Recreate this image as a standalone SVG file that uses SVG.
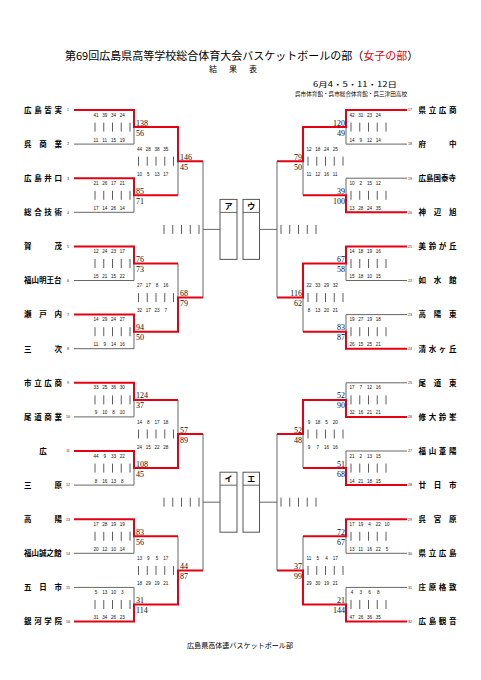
<svg xmlns="http://www.w3.org/2000/svg" width="481" height="680" viewBox="0 0 481 680">
<style>
.jp{font-family:"Noto Sans CJK JP","Noto Sans CJK SC",sans-serif;fill:#000}
.nm{font-size:7.5px;font-weight:bold}
.sd{font-family:"Liberation Sans",sans-serif;font-size:3.6px;text-anchor:middle;fill:#222}
.sc{font-family:"Liberation Serif",serif;font-size:8px;fill:#111}
.scr{font-family:"Liberation Serif",serif;font-size:8px;fill:#111;text-anchor:end}
.st{font-family:"Liberation Sans",sans-serif;font-size:4.6px;text-anchor:middle;fill:#111}
.g{stroke:#666;stroke-width:1;fill:none}
.r{stroke:#e60012;stroke-width:2;fill:none}
.box{fill:#fff;stroke:#555;stroke-width:1}
.lb{font-family:"Noto Sans CJK JP",sans-serif;font-size:8px;font-weight:bold;text-anchor:middle}
</style>
<defs>
<g id="b5"><path d="M0,-4.5v9M8.75,-4.5v9M17.5,-4.5v9M26.25,-4.5v9M35,-4.5v9" stroke="#333" stroke-width="0.8"/></g>
</defs>
<rect width="481" height="680" fill="#fff"/>

<g id="header">
<text class="jp" x="65" y="59.5" font-size="11">第69回広島県高等学校総合体育大会バスケットボールの部（<tspan fill="#e60012">女子の部</tspan>）</text>
<text class="jp" font-size="8" y="72"><tspan x="209">結</tspan><tspan x="229">果</tspan><tspan x="249">表</tspan></text>
<text class="jp" x="313" y="86.5" font-size="7" textLength="84" lengthAdjust="spacingAndGlyphs">6月4・5・11・12日</text>
<text class="jp" x="295" y="95.5" font-size="5.6" textLength="112" lengthAdjust="spacingAndGlyphs">呉市体育館・呉市総合体育館・呉三津田高校</text>
</g>

<g id="connectors">
<path class="g" d="M74,144.1H134V127.1M74,212.3H134V195.3M74,280.5H134V263.5M74,348.7H134V331.7M74,416.9H134V399.9M74,485.1H134V468.1M74,553.3H134V536.3M74,587.4H134V604.5M178,161.2V195.3M178,263.5V297.6M178,399.9V434M178,536.3V570.4M203,161.2V297.6M203,434V570.4M203,229.4H220M203,502.2H220"/>
<path class="g" d="M407,144.1H346V127.1M407,178.2H346V195.3M407,280.5H346V263.5M407,314.6H346V331.7M407,382.8H346V399.9M407,451H346V468.1M407,553.3H346V536.3M407,587.4H346V604.5M303,161.2V195.3M303,297.6V331.7M303,434V468.1M303,536.3V570.4M277,161.2V297.6M277,434V570.4M259,229.4H277M259,502.2H277"/>
<path class="r" d="M74,110H134V127.1H178V161.2H203M74,178.2H134V195.3H178M74,246.4H134V263.5H178M74,314.6H134V331.7H178V297.6H203M74,382.8H134V399.9H178M74,451H134V468.1H178V434H203M74,519.2H134V536.3H178M74,621.5H134V604.5H178V570.4H203"/>
<path class="r" d="M407,110H346V127.1H303V161.2H277M407,212.3H346V195.3H303M407,246.4H346V263.5H303V297.6H277M407,348.7H346V331.7H303M407,416.9H346V399.9H303V434H277M407,485.1H346V468.1H303M407,519.2H346V536.3H303M407,621.5H346V604.5H303V570.4H277"/>
</g>

<g id="bars">
<use href="#b5" x="95" y="127.1"/><use href="#b5" x="95" y="195.3"/><use href="#b5" x="95" y="263.5"/><use href="#b5" x="95" y="331.7"/>
<use href="#b5" x="95" y="399.9"/><use href="#b5" x="95" y="468.1"/><use href="#b5" x="95" y="536.3"/><use href="#b5" x="95" y="604.5"/>
<use href="#b5" x="138.5" y="161.2"/><use href="#b5" x="138.5" y="297.6"/><use href="#b5" x="138.5" y="434"/><use href="#b5" x="138.5" y="570.4"/>
<use href="#b5" x="164" y="229.4"/><use href="#b5" x="164" y="502.2"/>
<use href="#b5" x="281" y="229.4"/><use href="#b5" x="281" y="502.2"/>
<use href="#b5" x="308" y="161.2"/><use href="#b5" x="308" y="297.6"/><use href="#b5" x="308" y="434"/><use href="#b5" x="308" y="570.4"/>
<use href="#b5" x="351" y="127.1"/><use href="#b5" x="351" y="195.3"/><use href="#b5" x="351" y="263.5"/><use href="#b5" x="351" y="331.7"/>
<use href="#b5" x="351" y="399.9"/><use href="#b5" x="351" y="468.1"/><use href="#b5" x="351" y="536.3"/><use href="#b5" x="351" y="604.5"/>
</g>

<g id="scores">
<text class="sc" x="136" y="125.6">138</text><text class="sc" x="136" y="135.6">56</text>
<text class="sc" x="136" y="193.8">85</text><text class="sc" x="136" y="203.8">71</text>
<text class="sc" x="136" y="262">76</text><text class="sc" x="136" y="272">73</text>
<text class="sc" x="136" y="330.2">94</text><text class="sc" x="136" y="340.2">50</text>
<text class="sc" x="136" y="398.4">124</text><text class="sc" x="136" y="408.4">37</text>
<text class="sc" x="136" y="466.6">108</text><text class="sc" x="136" y="476.6">45</text>
<text class="sc" x="136" y="534.8">83</text><text class="sc" x="136" y="544.8">56</text>
<text class="sc" x="136" y="603">31</text><text class="sc" x="136" y="613">114</text>
<text class="sc" x="180" y="159.7">146</text><text class="sc" x="180" y="169.7">45</text>
<text class="sc" x="180" y="296.1">68</text><text class="sc" x="180" y="306.1">79</text>
<text class="sc" x="180" y="432.5">57</text><text class="sc" x="180" y="442.5">89</text>
<text class="sc" x="180" y="568.9">44</text><text class="sc" x="180" y="578.9">87</text>
<text class="scr" x="345" y="125.6">120</text><text class="scr" x="345" y="135.6">49</text>
<text class="scr" x="345" y="193.8">39</text><text class="scr" x="345" y="203.8">100</text>
<text class="scr" x="345" y="262">67</text><text class="scr" x="345" y="272">58</text>
<text class="scr" x="345" y="330.2">83</text><text class="scr" x="345" y="340.2">87</text>
<text class="scr" x="345" y="398.4">52</text><text class="scr" x="345" y="408.4">90</text>
<text class="scr" x="345" y="466.6">51</text><text class="scr" x="345" y="476.6">68</text>
<text class="scr" x="345" y="534.8">72</text><text class="scr" x="345" y="544.8">67</text>
<text class="scr" x="345" y="603">21</text><text class="scr" x="345" y="613">144</text>
<text class="scr" x="302" y="159.7">79</text><text class="scr" x="302" y="169.7">50</text>
<text class="scr" x="302" y="296.1">116</text><text class="scr" x="302" y="306.1">62</text>
<text class="scr" x="302" y="432.5">52</text><text class="scr" x="302" y="442.5">48</text>
<text class="scr" x="302" y="568.9">37</text><text class="scr" x="302" y="578.9">99</text>
</g>

<g id="periods">
<text class="st" y="116.6"><tspan x="96">41</tspan><tspan x="104.75">39</tspan><tspan x="113.5">34</tspan><tspan x="122.25">24</tspan></text>
<text class="st" y="141.6"><tspan x="96">11</tspan><tspan x="104.75">11</tspan><tspan x="113.5">15</tspan><tspan x="122.25">19</tspan></text>
<text class="st" y="184.8"><tspan x="96">21</tspan><tspan x="104.75">26</tspan><tspan x="113.5">17</tspan><tspan x="122.25">21</tspan></text>
<text class="st" y="209.8"><tspan x="96">17</tspan><tspan x="104.75">14</tspan><tspan x="113.5">26</tspan><tspan x="122.25">14</tspan></text>
<text class="st" y="253"><tspan x="96">12</tspan><tspan x="104.75">24</tspan><tspan x="113.5">23</tspan><tspan x="122.25">17</tspan></text>
<text class="st" y="278"><tspan x="96">15</tspan><tspan x="104.75">21</tspan><tspan x="113.5">15</tspan><tspan x="122.25">22</tspan></text>
<text class="st" y="321.2"><tspan x="96">14</tspan><tspan x="104.75">29</tspan><tspan x="113.5">24</tspan><tspan x="122.25">27</tspan></text>
<text class="st" y="346.2"><tspan x="96">11</tspan><tspan x="104.75">9</tspan><tspan x="113.5">14</tspan><tspan x="122.25">16</tspan></text>
<text class="st" y="389.4"><tspan x="96">33</tspan><tspan x="104.75">25</tspan><tspan x="113.5">36</tspan><tspan x="122.25">30</tspan></text>
<text class="st" y="414.4"><tspan x="96">9</tspan><tspan x="104.75">10</tspan><tspan x="113.5">8</tspan><tspan x="122.25">10</tspan></text>
<text class="st" y="457.6"><tspan x="96">44</tspan><tspan x="104.75">9</tspan><tspan x="113.5">33</tspan><tspan x="122.25">22</tspan></text>
<text class="st" y="482.6"><tspan x="96">8</tspan><tspan x="104.75">16</tspan><tspan x="113.5">13</tspan><tspan x="122.25">8</tspan></text>
<text class="st" y="525.8"><tspan x="96">17</tspan><tspan x="104.75">28</tspan><tspan x="113.5">19</tspan><tspan x="122.25">19</tspan></text>
<text class="st" y="550.8"><tspan x="96">20</tspan><tspan x="104.75">12</tspan><tspan x="113.5">10</tspan><tspan x="122.25">14</tspan></text>
<text class="st" y="594"><tspan x="96">5</tspan><tspan x="104.75">13</tspan><tspan x="113.5">10</tspan><tspan x="122.25">3</tspan></text>
<text class="st" y="619"><tspan x="96">31</tspan><tspan x="104.75">34</tspan><tspan x="113.5">26</tspan><tspan x="122.25">23</tspan></text>

<text class="st" y="150.7"><tspan x="139.5">44</tspan><tspan x="148.25">28</tspan><tspan x="157">38</tspan><tspan x="165.75">35</tspan></text>
<text class="st" y="175.7"><tspan x="139.5">10</tspan><tspan x="148.25">5</tspan><tspan x="157">13</tspan><tspan x="165.75">17</tspan></text>
<text class="st" y="287.1"><tspan x="139.5">27</tspan><tspan x="148.25">17</tspan><tspan x="157">8</tspan><tspan x="165.75">16</tspan></text>
<text class="st" y="312.1"><tspan x="139.5">32</tspan><tspan x="148.25">17</tspan><tspan x="157">23</tspan><tspan x="165.75">7</tspan></text>
<text class="st" y="423.5"><tspan x="139.5">14</tspan><tspan x="148.25">8</tspan><tspan x="157">17</tspan><tspan x="165.75">18</tspan></text>
<text class="st" y="448.5"><tspan x="139.5">24</tspan><tspan x="148.25">15</tspan><tspan x="157">22</tspan><tspan x="165.75">28</tspan></text>
<text class="st" y="559.9"><tspan x="139.5">13</tspan><tspan x="148.25">9</tspan><tspan x="157">5</tspan><tspan x="165.75">17</tspan></text>
<text class="st" y="584.9"><tspan x="139.5">18</tspan><tspan x="148.25">29</tspan><tspan x="157">19</tspan><tspan x="165.75">21</tspan></text>

<text class="st" y="116.6"><tspan x="352">42</tspan><tspan x="360.75">31</tspan><tspan x="369.5">23</tspan><tspan x="378.25">24</tspan></text>
<text class="st" y="141.6"><tspan x="352">14</tspan><tspan x="360.75">9</tspan><tspan x="369.5">12</tspan><tspan x="378.25">14</tspan></text>
<text class="st" y="184.8"><tspan x="352">10</tspan><tspan x="360.75">2</tspan><tspan x="369.5">15</tspan><tspan x="378.25">12</tspan></text>
<text class="st" y="209.8"><tspan x="352">13</tspan><tspan x="360.75">28</tspan><tspan x="369.5">24</tspan><tspan x="378.25">35</tspan></text>
<text class="st" y="253"><tspan x="352">14</tspan><tspan x="360.75">18</tspan><tspan x="369.5">19</tspan><tspan x="378.25">16</tspan></text>
<text class="st" y="278"><tspan x="352">15</tspan><tspan x="360.75">18</tspan><tspan x="369.5">10</tspan><tspan x="378.25">15</tspan></text>
<text class="st" y="321.2"><tspan x="352">19</tspan><tspan x="360.75">27</tspan><tspan x="369.5">19</tspan><tspan x="378.25">18</tspan></text>
<text class="st" y="346.2"><tspan x="352">26</tspan><tspan x="360.75">15</tspan><tspan x="369.5">25</tspan><tspan x="378.25">21</tspan></text>
<text class="st" y="389.4"><tspan x="352">17</tspan><tspan x="360.75">7</tspan><tspan x="369.5">12</tspan><tspan x="378.25">16</tspan></text>
<text class="st" y="414.4"><tspan x="352">32</tspan><tspan x="360.75">16</tspan><tspan x="369.5">21</tspan><tspan x="378.25">21</tspan></text>
<text class="st" y="457.6"><tspan x="352">21</tspan><tspan x="360.75">2</tspan><tspan x="369.5">13</tspan><tspan x="378.25">15</tspan></text>
<text class="st" y="482.6"><tspan x="352">14</tspan><tspan x="360.75">21</tspan><tspan x="369.5">18</tspan><tspan x="378.25">15</tspan></text>
<text class="st" y="525.8"><tspan x="352">17</tspan><tspan x="360.75">19</tspan><tspan x="369.5">4</tspan><tspan x="378.25">22</tspan><tspan x="387">10</tspan></text>
<text class="st" y="550.8"><tspan x="352">13</tspan><tspan x="360.75">11</tspan><tspan x="369.5">16</tspan><tspan x="378.25">22</tspan><tspan x="387">5</tspan></text>
<text class="st" y="594"><tspan x="352">4</tspan><tspan x="360.75">3</tspan><tspan x="369.5">6</tspan><tspan x="378.25">8</tspan></text>
<text class="st" y="619"><tspan x="352">47</tspan><tspan x="360.75">26</tspan><tspan x="369.5">36</tspan><tspan x="378.25">35</tspan></text>

<text class="st" y="150.7"><tspan x="309">12</tspan><tspan x="317.75">18</tspan><tspan x="326.5">24</tspan><tspan x="335.25">25</tspan></text>
<text class="st" y="175.7"><tspan x="309">11</tspan><tspan x="317.75">12</tspan><tspan x="326.5">16</tspan><tspan x="335.25">11</tspan></text>
<text class="st" y="287.1"><tspan x="309">22</tspan><tspan x="317.75">33</tspan><tspan x="326.5">29</tspan><tspan x="335.25">32</tspan></text>
<text class="st" y="312.1"><tspan x="309">8</tspan><tspan x="317.75">13</tspan><tspan x="326.5">20</tspan><tspan x="335.25">21</tspan></text>
<text class="st" y="423.5"><tspan x="309">9</tspan><tspan x="317.75">18</tspan><tspan x="326.5">5</tspan><tspan x="335.25">20</tspan></text>
<text class="st" y="448.5"><tspan x="309">9</tspan><tspan x="317.75">7</tspan><tspan x="326.5">16</tspan><tspan x="335.25">16</tspan></text>
<text class="st" y="559.9"><tspan x="309">11</tspan><tspan x="317.75">5</tspan><tspan x="326.5">4</tspan><tspan x="335.25">17</tspan></text>
<text class="st" y="584.9"><tspan x="309">29</tspan><tspan x="317.75">30</tspan><tspan x="326.5">19</tspan><tspan x="335.25">21</tspan></text>
</g>

<g id="box-a"><rect class="box" x="220" y="199.4" width="17" height="60"/><path class="g" d="M220,212.4H237"/><text class="lb" x="228.5" y="209.2">ア</text></g>
<g id="box-u"><rect class="box" x="243" y="199.4" width="16.5" height="60"/><path class="g" d="M243,212.4H259.5"/><text class="lb" x="251.25" y="209.2">ウ</text></g>
<g id="box-i"><rect class="box" x="220" y="472.2" width="17" height="60"/><path class="g" d="M220,485.2H237"/><text class="lb" x="228.5" y="482">イ</text></g>
<g id="box-e"><rect class="box" x="243" y="472.2" width="16.5" height="60"/><path class="g" d="M243,485.2H259.5"/><text class="lb" x="251.25" y="482">エ</text></g>

<g id="team1"><text class="jp nm" x="24 34.17 44.33 54.5" y="112.8">広島皆実</text><text class="sd" x="68" y="111.3">1</text></g>
<g id="team2"><text class="jp nm" x="24 39.25 54.5" y="146.9">呉商業</text><text class="sd" x="68" y="145.4">2</text></g>
<g id="team3"><text class="jp nm" x="24 34.17 44.33 54.5" y="181">広島井口</text><text class="sd" x="68" y="179.5">3</text></g>
<g id="team4"><text class="jp nm" x="24 34.17 44.33 54.5" y="215.1">総合技術</text><text class="sd" x="68" y="213.6">4</text></g>
<g id="team5"><text class="jp nm" x="24 54.5" y="249.2">賀茂</text><text class="sd" x="68" y="247.7">5</text></g>
<g id="team6"><text class="jp nm" x="24" y="283.3">福山明王台</text><text class="sd" x="68" y="281.8">6</text></g>
<g id="team7"><text class="jp nm" x="24 39.25 54.5" y="317.4">瀬戸内</text><text class="sd" x="68" y="315.9">7</text></g>
<g id="team8"><text class="jp nm" x="24 54.5" y="351.5">三次</text><text class="sd" x="68" y="350">8</text></g>
<g id="team9"><text class="jp nm" x="24 34.17 44.33 54.5" y="385.6">市立広商</text><text class="sd" x="68" y="384.1">9</text></g>
<g id="team10"><text class="jp nm" x="24 34.17 44.33 54.5" y="419.7">尾道商業</text><text class="sd" x="68" y="418.2">10</text></g>
<g id="team11"><text class="jp nm" x="39.25" y="453.8">広</text><text class="sd" x="68" y="452.3">11</text></g>
<g id="team12"><text class="jp nm" x="24 54.5" y="487.9">三原</text><text class="sd" x="68" y="486.4">12</text></g>
<g id="team13"><text class="jp nm" x="24 54.5" y="522">高陽</text><text class="sd" x="68" y="520.5">13</text></g>
<g id="team14"><text class="jp nm" x="24" y="556.1">福山誠之館</text><text class="sd" x="68" y="554.6">14</text></g>
<g id="team15"><text class="jp nm" x="24 39.25 54.5" y="590.2">五日市</text><text class="sd" x="68" y="588.7">15</text></g>
<g id="team16"><text class="jp nm" x="24 34.17 44.33 54.5" y="624.3">銀河学院</text><text class="sd" x="68" y="622.8">16</text></g>

<g id="team17"><text class="jp nm" x="418.5 428.67 438.83 449" y="112.8">県立広商</text><text class="sd" x="410" y="111.3">17</text></g>
<g id="team18"><text class="jp nm" x="418.5 449" y="146.9">府中</text><text class="sd" x="410" y="145.4">18</text></g>
<g id="team19"><text class="jp nm" x="418.5" y="181">広島国泰寺</text><text class="sd" x="410" y="179.5">19</text></g>
<g id="team20"><text class="jp nm" x="418.5 433.75 449" y="215.1">神辺旭</text><text class="sd" x="410" y="213.6">20</text></g>
<g id="team21"><text class="jp nm" x="418.5 428.67 438.83 449" y="249.2">美鈴が丘</text><text class="sd" x="410" y="247.7">21</text></g>
<g id="team22"><text class="jp nm" x="418.5 433.75 449" y="283.3">如水館</text><text class="sd" x="410" y="281.8">22</text></g>
<g id="team23"><text class="jp nm" x="418.5 433.75 449" y="317.4">高陽東</text><text class="sd" x="410" y="315.9">23</text></g>
<g id="team24"><text class="jp nm" x="418.5 428.67 438.83 449" y="351.5">清水ヶ丘</text><text class="sd" x="410" y="350">24</text></g>
<g id="team25"><text class="jp nm" x="418.5 433.75 449" y="385.6">尾道東</text><text class="sd" x="410" y="384.1">25</text></g>
<g id="team26"><text class="jp nm" x="418.5 428.67 438.83 449" y="419.7">修大鈴峯</text><text class="sd" x="410" y="418.2">26</text></g>
<g id="team27"><text class="jp nm" x="418.5 428.67 438.83 449" y="453.8">福山葦陽</text><text class="sd" x="410" y="452.3">27</text></g>
<g id="team28"><text class="jp nm" x="418.5 433.75 449" y="487.9">廿日市</text><text class="sd" x="410" y="486.4">28</text></g>
<g id="team29"><text class="jp nm" x="418.5 433.75 449" y="522">呉宮原</text><text class="sd" x="410" y="520.5">29</text></g>
<g id="team30"><text class="jp nm" x="418.5 428.67 438.83 449" y="556.1">県立広島</text><text class="sd" x="410" y="554.6">30</text></g>
<g id="team31"><text class="jp nm" x="418.5 428.67 438.83 449" y="590.2">庄原格致</text><text class="sd" x="410" y="588.7">31</text></g>
<g id="team32"><text class="jp nm" x="418.5 428.67 438.83 449" y="624.3">広島観音</text><text class="sd" x="410" y="622.8">32</text></g>

<g id="footer"><text class="jp" x="187" y="647.5" font-size="7" textLength="106" lengthAdjust="spacingAndGlyphs">広島県高体連バスケットボール部</text></g>
</svg>
